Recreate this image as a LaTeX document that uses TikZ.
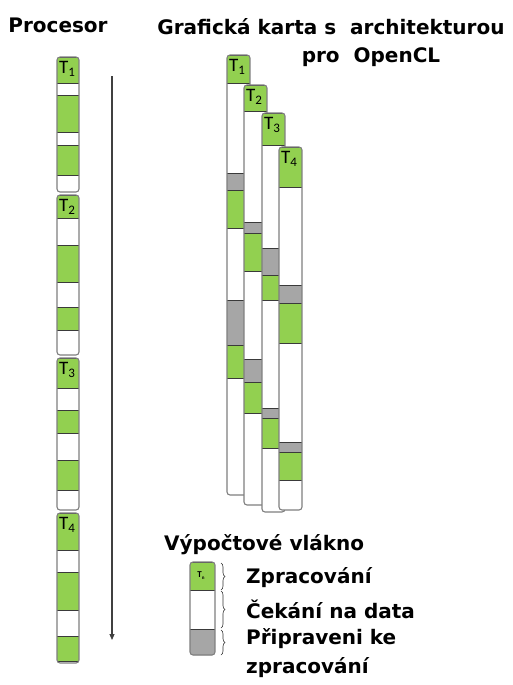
\documentclass[tikz,border=0pt]{standalone}
\usepackage{fontspec}
\setmainfont{DejaVu Sans}
\newfontfamily\tfont{Carlito}
\usetikzlibrary{arrows.meta,decorations.pathreplacing}
\definecolor{tgreen}{HTML}{92D050}
\definecolor{tgray}{HTML}{A6A6A6}
\definecolor{toutline}{HTML}{7F7F7F}
\definecolor{tsep}{HTML}{3A3A3A}
\tikzset{
  ttl/.style={font=\fontsize{20}{24}\selectfont\bfseries, inner sep=0pt},
  tlab/.style={font=\tfont\fontsize{19}{20}\selectfont, inner sep=0pt, anchor=west},
  outl/.style={draw=toutline, line width=1.1pt, rounded corners=3pt},
  sepl/.style={draw=tsep, line width=0.9pt},
}
% #1 x-left, #2 width, #3 top, #4 bottom, #5 list of a/b/color, #6 label digit
\newcommand\threadcol[6]{%
  \begin{scope}
    \clip[rounded corners=3pt] (#1,#3) rectangle ({#1+#2},#4);
    \fill[white] (#1,#3) rectangle ({#1+#2},#4);
    \foreach \a/\b/\c in {#5} {
      \fill[\c] (#1,\a) rectangle ({#1+#2},\b);
      \draw[sepl] (#1,\a) -- ({#1+#2},\a);
      \draw[sepl] (#1,\b) -- ({#1+#2},\b);
    }
  \end{scope}
  \draw[outl] (#1,#3) rectangle ({#1+#2},#4);
  \node[tlab] at ({#1+2},{#3+12}) {T\raisebox{-3pt}{\fontsize{13}{14}\selectfont #6}};
}
\newcommand\plainblock[5]{%
  \begin{scope}
    \clip[rounded corners=3pt] (#1,#3) rectangle ({#1+#2},#4);
    \fill[white] (#1,#3) rectangle ({#1+#2},#4);
    \foreach \a/\b/\c in {#5} {
      \fill[\c] (#1,\a) rectangle ({#1+#2},\b);
      \draw[sepl] (#1,\a) -- ({#1+#2},\a);
      \draw[sepl] (#1,\b) -- ({#1+#2},\b);
    }
  \end{scope}
  \draw[outl] (#1,#3) rectangle ({#1+#2},#4);
}
\begin{document}
\begin{tikzpicture}[x=1pt,y=-1pt]
\useasboundingbox (0,0) rectangle (512,685);
\fill[white] (0,0) rectangle (512,685);

% titles
\node[ttl] (tproc) at (58,25) {Procesor};
\node[ttl] (tgpu1) at (331,27) {Grafická karta s\ \ architekturou};
\node[ttl] (tgpu2) at (371,57) {pro\ \ OpenCL};

% processor column
\threadcol{57}{22}{57}{192}{57/83/tgreen,95/132/tgreen,145/175/tgreen}{1}
\threadcol{57}{22}{195}{355}{195/218/tgreen,245/282/tgreen,307/330/tgreen}{2}
\threadcol{57}{22}{358}{510}{358/388/tgreen,410/433/tgreen,460/490/tgreen}{3}
\threadcol{57}{22}{513}{663}{513/550/tgreen,572/610/tgreen,636/661/tgreen}{4}

% time arrow
\coordinate (arrS) at (112,76);
\coordinate (arrE) at (112,640);
\draw[draw=black!75, line width=1.1pt, -{Triangle[length=6pt,width=5pt]}] (arrS) -- (arrE);

% GPU columns
\threadcol{227}{23}{55}{495}{55/83/tgreen,173/190/tgray,190/228/tgreen,300/345/tgray,345/378/tgreen}{1}
\threadcol{244}{23}{85}{505}{85/111/tgreen,222/233/tgray,233/271/tgreen,359/382/tgray,382/413/tgreen}{2}
\threadcol{262}{23}{113}{512}{113/145/tgreen,248/275/tgray,275/300/tgreen,408/418/tgray,418/448/tgreen}{3}
\threadcol{279}{23}{147}{510}{147/187/tgreen,285/303/tgray,303/343/tgreen,442/452/tgray,452/480/tgreen}{4}

% legend
\node[ttl, anchor=west] (lgt) at (164,545) {Výpočtové vlákno};
\plainblock{190}{25}{562}{655}{562/590/tgreen,629/655/tgray}
\node[font=\tfont\fontsize{9}{9}\selectfont\bfseries, inner sep=0pt] (lgT) at (201,576) {T\raisebox{-2pt}{\fontsize{5}{5}\selectfont n}};
\coordinate (b1a) at (221,563); \coordinate (b1b) at (221,590);
\coordinate (b2a) at (221,591); \coordinate (b2b) at (221,628);
\coordinate (b3a) at (221,630); \coordinate (b3b) at (221,655);
\foreach \s/\e in {b1a/b1b,b2a/b2b,b3a/b3b}
  \draw[black!80, line width=0.6pt, decorate, decoration={brace, amplitude=4pt}] (\s) -- (\e);
\node[ttl, anchor=west] (lz) at (246,578) {Zpracování};
\node[ttl, anchor=west] (lc) at (246,609) {Čekání na data};
\node[ttl, anchor=west] (lp) at (246,639) {Připraveni ke};
\node[ttl, anchor=west] (lp2) at (246,668) {zpracování};
\end{tikzpicture}
\end{document}
